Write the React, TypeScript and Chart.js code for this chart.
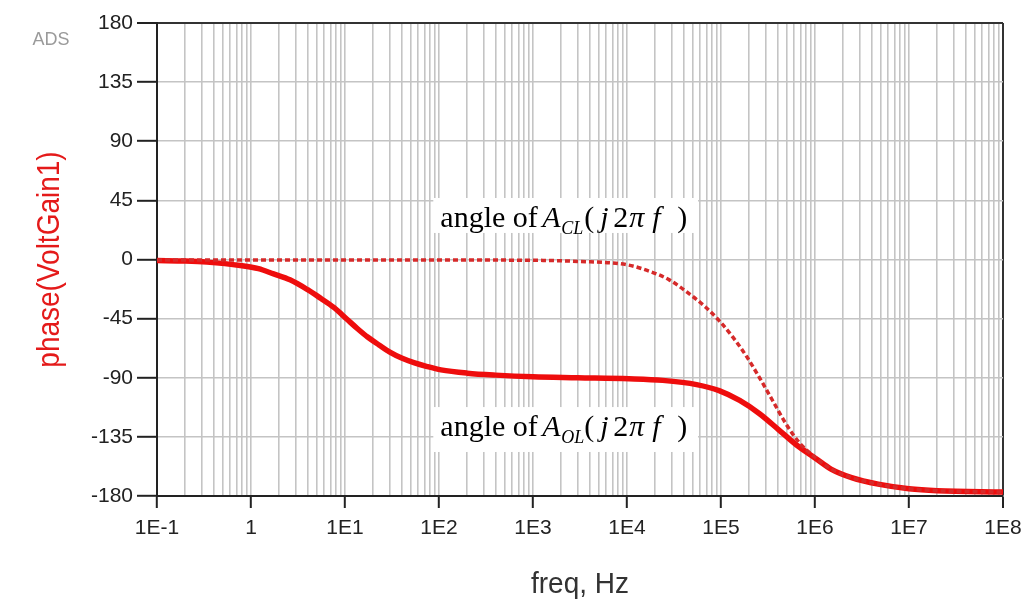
import React, { useEffect, useRef } from 'react';
import { Chart, registerables } from 'chart.js';

Chart.register(...registerables);

// ---- data ----
const olFreq = [0.1, 0.2, 0.34, 0.77, 1.2, 1.74, 2.6, 4, 5.5, 7.6, 10.5, 13.5, 17.4, 23, 30, 40, 54, 75, 105, 200, 400, 1000, 3000, 10500, 24000, 55000, 95500, 158000, 257000, 417000, 631000, 1000000, 1480000, 2450000, 4700000, 10000000, 20000000, 100000000];
const olPhase = [-0.8, -1.2, -2, -4.6, -7, -11, -15.5, -23, -29.5, -36.5, -45.5, -52.5, -59, -65, -70.5, -75, -78.5, -81.5, -84, -86.5, -88, -89.3, -90, -90.8, -92, -95.2, -99.8, -107.3, -117.4, -130, -141, -151, -159.5, -166, -171, -174.5, -176, -177];

const clFreq = [0.1, 1, 10, 100, 1000, 3160, 10000, 17400, 28200, 45700, 69200, 95500, 135000, 186000, 257000, 355000, 490000, 692000, 1000000, 1480000, 2450000, 4700000, 10000000, 20000000, 100000000];
const clPhase = [-0.4, -0.4, -0.4, -0.4, -0.6, -1.5, -4, -9, -15.5, -26, -36.5, -46.5, -59.5, -73.5, -90, -107.5, -125, -140, -150.5, -159.5, -166, -171, -174.5, -176, -177];

const xMin = 0.1;
const xMax = 1e8;
const decadeExps = [-1, 0, 1, 2, 3, 4, 5, 6, 7, 8];
const yTicks = [-180, -135, -90, -45, 0, 45, 90, 135, 180];

const xTitle = 'freq, Hz';
const yTitle = 'phase(VoltGain1)';
const cornerText = 'ADS';

// label boxes anchored in data coordinates
const labelBoxes = [
  { sub: 'CL', fromFreq: 87, toFreq: 57000, top: 46.8, bottom: 20.2 },
  { sub: 'OL', fromFreq: 87, toFreq: 57000, top: -112.3, bottom: -146.5 },
];

const isDecade = (v: number) => {
  const l = Math.log10(v);
  return Math.abs(l - Math.round(l)) < 1e-9;
};
const fmtDecade = (v: number) => {
  const e = Math.round(Math.log10(v));
  return e === 0 ? '1' : '1E' + e;
};

const SERIF = '"Liberation Serif", "Times New Roman", serif';
const SANS = '"Liberation Sans", Arial, sans-serif';

const textPlugin = {
  id: 'texts',
  afterDatasetsDraw(chart: any) {
    const ctx = chart.ctx as CanvasRenderingContext2D;
    const xs = chart.scales.x;
    const ys = chart.scales.y;
    ctx.save();
    for (const b of labelBoxes) {
      const x0 = xs.getPixelForValue(b.fromFreq);
      const x1 = xs.getPixelForValue(b.toFreq);
      const y0 = ys.getPixelForValue(b.top);
      const y1 = ys.getPixelForValue(b.bottom);
      ctx.fillStyle = '#ffffff';
      ctx.fillRect(x0, y0, x1 - x0, y1 - y0);
      ctx.fillStyle = '#000000';
      ctx.textBaseline = 'alphabetic';
      ctx.textAlign = 'left';
      const base = y0 + 29;
      const N = '30px ' + SERIF;
      const I = 'italic 30px ' + SERIF;
      const S = 'italic 18px ' + SERIF;
      const put = (t: string, font: string, dx: number, dy = 0) => {
        ctx.font = font;
        ctx.fillText(t, x0 + dx, base + dy);
      };
      put('angle of', N, 7);
      put('A', I, 109);
      put(b.sub, S, 128, 7);
      put('(', N, 151);
      put('j', I, 167);
      put('2', N, 180);
      put('\u03C0', I, 196);
      put('f', I, 219);
      put(')', N, 244);
    }
    ctx.restore();
  },
  afterDraw(chart: any) {
    const ctx = chart.ctx as CanvasRenderingContext2D;
    const area = chart.chartArea;
    ctx.save();
    // corner text
    ctx.font = '18px ' + SANS;
    ctx.fillStyle = '#9a9a9a';
    ctx.textAlign = 'center';
    ctx.textBaseline = 'middle';
    ctx.fillText(cornerText, 51, area.top + 17);
    // x title
    ctx.save();
    ctx.font = '28px ' + SANS;
    ctx.fillStyle = '#333333';
    ctx.textAlign = 'center';
    ctx.textBaseline = 'alphabetic';
    ctx.translate((area.left + area.right) / 2, 593);
    ctx.scale(1, 1.08);
    ctx.fillText(xTitle, 0, 0);
    ctx.restore();
    // y title
    ctx.save();
    ctx.font = '28px ' + SANS;
    ctx.translate(59, (area.top + area.bottom) / 2);
    ctx.rotate(-Math.PI / 2);
    ctx.scale(1, 1.15);
    ctx.fillStyle = '#e41a1a';
    ctx.textAlign = 'center';
    ctx.textBaseline = 'alphabetic';
    ctx.fillText(yTitle, 0, 0);
    ctx.restore();
    ctx.restore();
  },
};

export default function App() {
  const ref = useRef<HTMLCanvasElement | null>(null);
  useEffect(() => {
    if (!ref.current) return;
    const tickFont = { family: SANS, size: 21 };
    const chart = new Chart(ref.current, {
      type: 'line',
      data: {
        datasets: [
          {
            label: 'CL',
            data: clFreq.map((f, i) => ({ x: f, y: clPhase[i] })),
            borderColor: '#d62a2a',
            borderWidth: 3.5,
            borderDash: [5, 3],
            pointRadius: 0,
            cubicInterpolationMode: 'monotone',
            fill: false,
          },
          {
            label: 'OL',
            data: olFreq.map((f, i) => ({ x: f, y: olPhase[i] })),
            borderColor: '#ee0d0d',
            borderWidth: 5.5,
            pointRadius: 0,
            cubicInterpolationMode: 'monotone',
            fill: false,
          },
        ],
      },
      options: {
        animation: false,
        responsive: false,
        devicePixelRatio: 1,
        layout: { padding: { top: 23, right: 21, left: 0, bottom: 0 } },
        plugins: { legend: { display: false }, tooltip: { enabled: false } },
        scales: {
          x: {
            type: 'logarithmic',
            min: xMin,
            max: xMax,
            afterBuildTicks: (scale: any) => {
              const t: any[] = [];
              for (const e of decadeExps) {
                if (e === decadeExps[decadeExps.length - 1]) {
                  t.push({ value: Math.pow(10, e) });
                } else {
                  for (let m = 1; m <= 9; m++) t.push({ value: m * Math.pow(10, e) });
                }
              }
              scale.ticks = t;
            },
            afterFit: (scale: any) => {
              scale.height = 599 - 496;
              scale.paddingLeft = 0;
              scale.paddingRight = 0;
            },
            ticks: {
              autoSkip: false,
              maxRotation: 0,
              minRotation: 0,
              padding: 8,
              color: '#222222',
              font: tickFont,
              callback: (v: any) => (isDecade(Number(v)) ? fmtDecade(Number(v)) : ''),
            },
            grid: {
              drawTicks: true,
              tickLength: 12,
              tickWidth: 2,
              tickColor: (c: any) => (c.tick && isDecade(c.tick.value) ? '#222222' : 'rgba(0,0,0,0)'),
              color: (c: any) => (c.tick && c.tick.value >= xMax * 0.999 ? '#333333' : '#c4c4c4'),
              lineWidth: (c: any) => (c.tick && c.tick.value >= xMax * 0.999 ? 2 : 1.6),
            },
            border: { color: '#222222', width: 2 },
          },
          y: {
            type: 'linear',
            min: -180,
            max: 180,
            afterBuildTicks: (scale: any) => {
              scale.ticks = yTicks.map((v) => ({ value: v }));
            },
            afterFit: (scale: any) => {
              scale.width = 157;
              scale.paddingTop = 0;
              scale.paddingBottom = 0;
            },
            ticks: {
              padding: 4,
              color: '#222222',
              font: tickFont,
            },
            grid: {
              drawTicks: true,
              tickLength: 20,
              tickWidth: 2,
              tickColor: '#222222',
              color: (c: any) => (c.tick && c.tick.value === 180 ? '#333333' : '#c4c4c4'),
              lineWidth: (c: any) => (c.tick && c.tick.value === 180 ? 2 : 1.6),
            },
            border: { color: '#222222', width: 2 },
          },
        },
      } as any,
      plugins: [textPlugin],
    });
    return () => chart.destroy();
  }, []);
  return (
    <div style={{ position: 'fixed', left: 0, top: 0, width: 1024, height: 599, background: '#ffffff' }}>
      <canvas ref={ref} width={1024} height={599} style={{ display: 'block' }} />
    </div>
  );
}
